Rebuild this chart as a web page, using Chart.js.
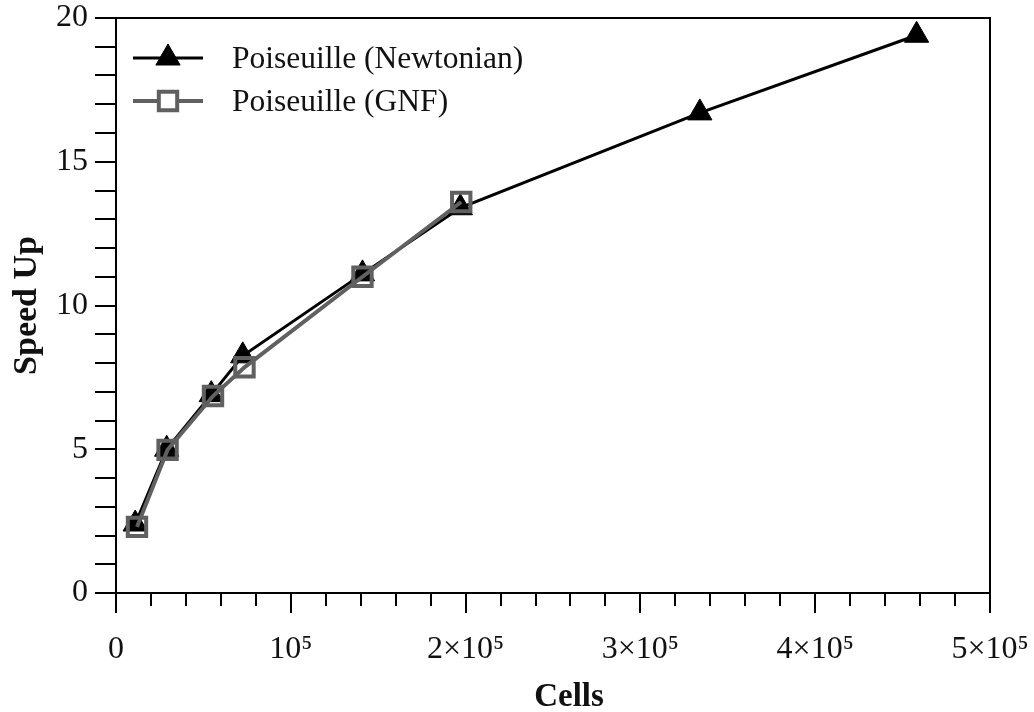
<!DOCTYPE html>
<html>
<head>
<meta charset="utf-8">
<script src="https://cdn.jsdelivr.net/npm/chart.js@4.4.1/dist/chart.umd.min.js"></script>
<style>
html, body { margin: 0; padding: 0; background: #fff; }
#wrap { width: 1034px; height: 712px; }
</style>
</head>
<body>
<div id="wrap"><canvas id="speedChart" width="1034" height="712"></canvas></div>
<script>
// values
var seriesNames = ['Poiseuille (Newtonian)', 'Poiseuille (GNF)'];
var newtonCells = [11000, 29000, 54500, 72500, 141000, 197000, 334000, 458000];
var newtonSpeed = [2.4, 5.0, 6.9, 8.25, 11.1, 13.4, 16.7, 19.4];
var gnfCells = [12000, 29500, 55500, 73500, 141000, 197500];
var gnfSpeed = [2.3, 4.98, 6.85, 7.85, 11.0, 13.6];
var xTickValues = [0, 100000, 200000, 300000, 400000, 500000];
var xTickLabels = ['0', '10⁵', '2×10⁵', '3×10⁵', '4×10⁵', '5×10⁵'];
var yTickValues = [0, 5, 10, 15, 20];
var xTitle = 'Cells';
var yTitle = 'Speed Up';

var serif = '"Liberation Serif", "Times New Roman", serif';

function toPoints(xs, ys) {
	return xs.map(function (x, i) { return { x: x, y: ys[i] }; });
}

function markTriangle(c, x, y, r) {
	c.beginPath();
	c.moveTo(x, y - r);
	c.lineTo(x + r * Math.cos(Math.PI / 6), y + r * 0.5);
	c.lineTo(x - r * Math.cos(Math.PI / 6), y + r * 0.5);
	c.closePath();
	c.fill();
	c.stroke();
}

function markSquare(c, x, y, r) {
	var s = r / Math.SQRT2;
	c.beginPath();
	c.rect(x - s, y - s, 2 * s, 2 * s);
	c.stroke();
}

// box, outward tick marks, x title and the legend inside the plot
var frameAndTicks = {
	id: 'frameAndTicks',
	afterDraw: function (chart) {
		var c = chart.ctx, a = chart.chartArea;
		var xs = chart.scales.x, ys = chart.scales.y;
		c.save();
		c.strokeStyle = '#000';
		c.lineWidth = 2;
		c.strokeRect(a.left, a.top, a.right - a.left, a.bottom - a.top);

		xs.ticks.forEach(function (t) {
			var px = Math.round(xs.getPixelForValue(t.value));
			var len = (t.value % 100000 === 0) ? 20 : 13;
			c.beginPath();
			c.moveTo(px, a.bottom);
			c.lineTo(px, a.bottom + len);
			c.stroke();
		});
		ys.ticks.forEach(function (t) {
			var py = Math.round(ys.getPixelForValue(t.value));
			c.beginPath();
			c.moveTo(a.left, py);
			c.lineTo(a.left - 21, py);
			c.stroke();
		});

		// x axis title (sits a bit right of centre in the original)
		c.fillStyle = '#111';
		c.font = 'bold 33px ' + serif;
		c.textAlign = 'center';
		c.textBaseline = 'middle';
		c.fillText(xTitle, (a.left + a.right) / 2 + 16, a.bottom + 104);

		// legend
		var lx = a.left + 17, mx = a.left + 52, tx = a.left + 116;
		var r1 = a.top + 40, r2 = a.top + 83;
		c.lineWidth = 3;
		c.strokeStyle = '#000';
		c.fillStyle = '#000';
		c.beginPath(); c.moveTo(lx, r1); c.lineTo(lx + 70, r1); c.stroke();
		c.lineWidth = 1;
		markTriangle(c, mx, r1, 14);

		c.lineWidth = 4;
		c.strokeStyle = '#606060';
		c.beginPath(); c.moveTo(lx, r2); c.lineTo(mx - 9, r2); c.stroke();
		c.beginPath(); c.moveTo(mx + 9, r2); c.lineTo(lx + 70, r2); c.stroke();
		markSquare(c, mx, r2, 13);

		c.fillStyle = '#111';
		c.font = '31.5px ' + serif;
		c.textBaseline = 'middle';
		c.textAlign = 'left';
		c.fillText(seriesNames[0], tx, r1 + 2);
		c.fillText(seriesNames[1], tx, r2 + 2);
		c.restore();
	}
};

var ctx = document.getElementById('speedChart').getContext('2d');
var speedChart = new Chart(ctx, {
	type: 'scatter',
	data: {
		datasets: [{
			label: seriesNames[1],
			data: toPoints(gnfCells, gnfSpeed),
			showLine: true,
			order: 0,
			borderColor: '#606060',
			borderWidth: 4,
			pointStyle: 'rect',
			pointRadius: 13,
			pointBorderWidth: 4,
			pointBorderColor: '#606060',
			pointBackgroundColor: 'rgba(0,0,0,0)'
		}, {
			label: seriesNames[0],
			data: toPoints(newtonCells, newtonSpeed),
			showLine: true,
			order: 1,
			borderColor: '#000',
			borderWidth: 3,
			pointStyle: 'triangle',
			pointRadius: 14,
			pointBorderWidth: 1,
			pointBorderColor: '#000',
			pointBackgroundColor: '#000'
		}]
	},
	options: {
		responsive: false,
		animation: false,
		devicePixelRatio: 1,
		layout: { padding: 0 },
		plugins: {
			legend: { display: false },
			tooltip: { enabled: false }
		},
		scales: {
			x: {
				type: 'linear',
				min: 0,
				max: 500000,
				grid: { display: false, drawTicks: false },
				border: { display: false },
				afterFit: function (scale) {
					scale.height = 119;
					scale.paddingLeft = 0;
					scale.paddingRight = 44;
				},
				ticks: {
					stepSize: 20000,
					autoSkip: false,
					maxRotation: 0,
					padding: 37,
					color: '#111',
					font: { family: serif, size: 32 },
					callback: function (v) {
						var i = xTickValues.indexOf(v);
						return i < 0 ? '' : xTickLabels[i];
					}
				},
				title: { display: false }
			},
			y: {
				min: 0,
				max: 20,
				grid: { display: false, drawTicks: false },
				border: { display: false },
				afterFit: function (scale) {
					scale.width = 116;
					scale.paddingTop = 18;
					scale.paddingBottom = 0;
				},
				ticks: {
					stepSize: 1,
					autoSkip: false,
					padding: 28,
					color: '#111',
					font: { family: serif, size: 32 },
					callback: function (v) {
						return yTickValues.indexOf(v) < 0 ? '' : String(v);
					}
				},
				title: {
					display: true,
					text: yTitle,
					color: '#111',
					font: { family: serif, size: 34, weight: 'bold' },
					padding: { top: 7, bottom: 0 }
				}
			}
		}
	},
	plugins: [frameAndTicks]
});
</script>
</body>
</html>
